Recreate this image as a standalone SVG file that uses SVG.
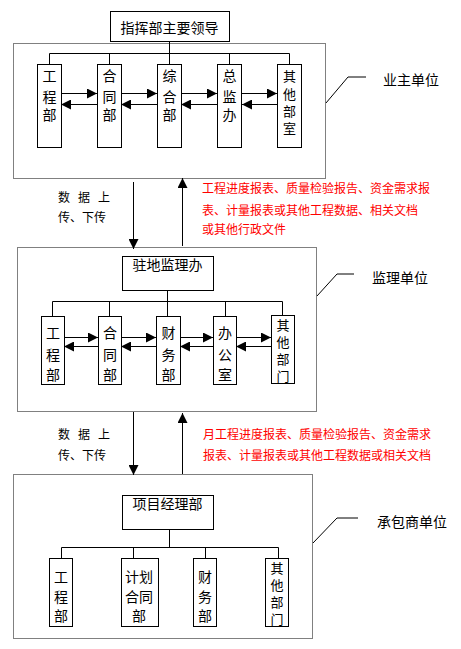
<svg xmlns="http://www.w3.org/2000/svg" width="461" height="649" viewBox="0 0 461 649">
<defs>
<marker id="ah" viewBox="0 0 10 10" refX="10" refY="5" markerWidth="10" markerHeight="10" markerUnits="userSpaceOnUse" orient="auto"><path d="M0,0 L10,5 L0,10 z" fill="#000"/></marker>
<style>
.box{fill:#fff;stroke:#000;stroke-width:1}
.dot{fill:none;stroke:#000;stroke-width:1;stroke-dasharray:1 1}
.ln{fill:none;stroke:#000;stroke-width:1}
.ar{fill:none;stroke:#000;stroke-width:1;marker-end:url(#ah)}
.t{font-family:"Noto Sans CJK SC","Noto Sans",sans-serif;font-size:14px;fill:#000;text-anchor:middle}
.t4{font-family:"Noto Sans CJK SC","Noto Sans",sans-serif;font-size:13px;fill:#000;text-anchor:middle}
.s{font-family:"Noto Sans CJK SC","Noto Sans",sans-serif;font-size:12px;fill:#000}
.r{font-family:"Noto Sans CJK SC","Noto Sans",sans-serif;font-size:12px;fill:#f00}
.lb{font-family:"Noto Sans CJK SC","Noto Sans",sans-serif;font-size:14px;fill:#000}
</style>
</defs>
<rect width="461" height="649" fill="#fff"/>

<g id="owner-unit">
<rect class="dot" x="13.5" y="43.5" width="312" height="135"/>
<path class="ln" d="M326,103 L348,77 L366,77"/>
<text class="lb" x="383" y="85">业主单位</text>
</g>
<g id="supervisor-unit">
<rect class="dot" x="17.5" y="247.5" width="299" height="164"/>
<path class="ln" d="M317,296 L337,274 L354,274"/>
<text class="lb" x="372" y="283">监理单位</text>
</g>
<g id="contractor-unit">
<rect class="dot" x="13.5" y="474.5" width="299" height="164"/>
<path class="ln" d="M313,543 L337,518 L358,518"/>
<text class="lb" x="377" y="527">承包商单位</text>
</g>

<g id="connectors">
<path class="ln" d="M169.5,41 V53.5 M49.5,53.5 H289.5 M49.5,53.5 V64 M109.5,53.5 V64 M169.5,53.5 V64 M229.5,53.5 V64 M289.5,53.5 V64"/>
<line class="ar" x1="61" y1="93.5" x2="97" y2="93.5"/>
<line class="ar" x1="97" y1="104.5" x2="61" y2="104.5"/>
<line class="ar" x1="121" y1="93.5" x2="157" y2="93.5"/>
<line class="ar" x1="157" y1="104.5" x2="121" y2="104.5"/>
<line class="ar" x1="181" y1="93.5" x2="217" y2="93.5"/>
<line class="ar" x1="217" y1="104.5" x2="181" y2="104.5"/>
<line class="ar" x1="242" y1="93.5" x2="277" y2="93.5"/>
<line class="ar" x1="277" y1="104.5" x2="242" y2="104.5"/>

<line class="ar" x1="133.5" y1="182" x2="133.5" y2="249"/>
<line class="ar" x1="182.5" y1="246" x2="182.5" y2="178"/>

<path class="ln" d="M167.5,290 V301.5 M52.5,301.5 H282.5 M52.5,301.5 V316 M109.5,301.5 V316 M167.5,301.5 V316 M225.5,301.5 V316 M282.5,301.5 V315"/>
<line class="ar" x1="64" y1="337.5" x2="98" y2="337.5"/>
<line class="ar" x1="98" y1="346.5" x2="64" y2="346.5"/>
<line class="ar" x1="121" y1="337.5" x2="156" y2="337.5"/>
<line class="ar" x1="156" y1="346.5" x2="121" y2="346.5"/>
<line class="ar" x1="180" y1="337.5" x2="213" y2="337.5"/>
<line class="ar" x1="213" y1="346.5" x2="180" y2="346.5"/>
<line class="ar" x1="236" y1="337.5" x2="271" y2="337.5"/>
<line class="ar" x1="271" y1="346.5" x2="236" y2="346.5"/>

<line class="ar" x1="133.5" y1="412" x2="133.5" y2="475"/>
<line class="ar" x1="182.5" y1="474" x2="182.5" y2="413"/>

<path class="ln" d="M169.5,529 V547.5 M61.5,547.5 H278.5 M61.5,547.5 V558 M133.5,547.5 V558 M205.5,547.5 V558 M278.5,547.5 V558"/>
</g>

<g id="flow-labels">
<text class="s" xml:space="preserve" x="58 68 78 88 98" y="202">数 据 上</text>
<text class="s" x="58" y="222">传、下传</text>
<text class="r" x="202" y="193">工程进度报表、质量检验报告、资金需求报</text>
<text class="r" x="202" y="215">表、计量报表或其他工程数据、相关文档</text>
<text class="r" x="202" y="234">或其他行政文件</text>
<text class="s" xml:space="preserve" x="58 68 78 88 98" y="439">数 据 上</text>
<text class="s" x="58" y="460">传、下传</text>
<text class="r" x="203" y="439">月工程进度报表、质量检验报告、资金需求</text>
<text class="r" x="203" y="460">报表、计量报表或其他工程数据或相关文档</text>
</g>

<g id="hq-leader"><rect class="box" x="110.5" y="11.5" width="119" height="30"/><text class="t" x="169.5" y="33">指挥部主要领导</text></g>
<g id="o-eng"><rect class="box" x="37.5" y="64.5" width="24" height="83"/><text class="t" x="49.5" y="81">工</text><text class="t" x="49.5" y="102">程</text><text class="t" x="49.5" y="120">部</text></g>
<g id="o-contract"><rect class="box" x="97.5" y="64.5" width="24" height="83"/><text class="t" x="109.5" y="81">合</text><text class="t" x="109.5" y="102">同</text><text class="t" x="109.5" y="120">部</text></g>
<g id="o-general"><rect class="box" x="157.5" y="64.5" width="24" height="83"/><text class="t" x="169.5" y="81">综</text><text class="t" x="169.5" y="102">合</text><text class="t" x="169.5" y="120">部</text></g>
<g id="o-chief"><rect class="box" x="217.5" y="64.5" width="24" height="83"/><text class="t" x="229.5" y="81">总</text><text class="t" x="229.5" y="102">监</text><text class="t" x="229.5" y="120">办</text></g>
<g id="o-other"><rect class="box" x="277.5" y="64.5" width="24" height="83"/><text class="t4" x="289.5" y="81">其</text><text class="t4" x="289.5" y="99">他</text><text class="t4" x="289.5" y="116">部</text><text class="t4" x="289.5" y="133">室</text></g>

<g id="site-office"><rect class="box" x="122.5" y="256.5" width="91" height="34"/><text class="t" x="167.5" y="270">驻地监理办</text></g>
<g id="s-eng"><rect class="box" x="41.5" y="316.5" width="23" height="68"/><text class="t" x="53" y="338">工</text><text class="t" x="53" y="360">程</text><text class="t" x="53" y="380">部</text></g>
<g id="s-contract"><rect class="box" x="98.5" y="316.5" width="23" height="68"/><text class="t" x="110" y="338">合</text><text class="t" x="110" y="360">同</text><text class="t" x="110" y="380">部</text></g>
<g id="s-finance"><rect class="box" x="156.5" y="316.5" width="24" height="68"/><text class="t" x="168.5" y="338">财</text><text class="t" x="168.5" y="360">务</text><text class="t" x="168.5" y="380">部</text></g>
<g id="s-office"><rect class="box" x="213.5" y="316.5" width="23" height="68"/><text class="t" x="225" y="338">办</text><text class="t" x="225" y="360">公</text><text class="t" x="225" y="380">室</text></g>
<g id="s-other"><rect class="box" x="271.5" y="315.5" width="23" height="68"/><text class="t4" x="283" y="330">其</text><text class="t4" x="283" y="347">他</text><text class="t4" x="283" y="364">部</text><text class="t4" x="283" y="381">门</text></g>

<g id="pm-dept"><rect class="box" x="122.5" y="495.5" width="91" height="34"/><text class="t" x="167.5" y="509">项目经理部</text></g>
<g id="c-eng"><rect class="box" x="49.5" y="558.5" width="23" height="68"/><text class="t" x="61" y="582">工</text><text class="t" x="61" y="602">程</text><text class="t" x="61" y="621">部</text></g>
<g id="c-plan"><rect class="box" x="121.5" y="558.5" width="37" height="68"/><text class="t" x="139" y="582">计划</text><text class="t" x="139" y="602">合同</text><text class="t" x="139" y="621">部</text></g>
<g id="c-finance"><rect class="box" x="193.5" y="558.5" width="23" height="68"/><text class="t" x="205" y="582">财</text><text class="t" x="205" y="602">务</text><text class="t" x="205" y="621">部</text></g>
<g id="c-other"><rect class="box" x="265.5" y="558.5" width="23" height="68"/><text class="t4" x="277" y="573">其</text><text class="t4" x="277" y="590">他</text><text class="t4" x="277" y="607">部</text><text class="t4" x="277" y="624">门</text></g>
</svg>
